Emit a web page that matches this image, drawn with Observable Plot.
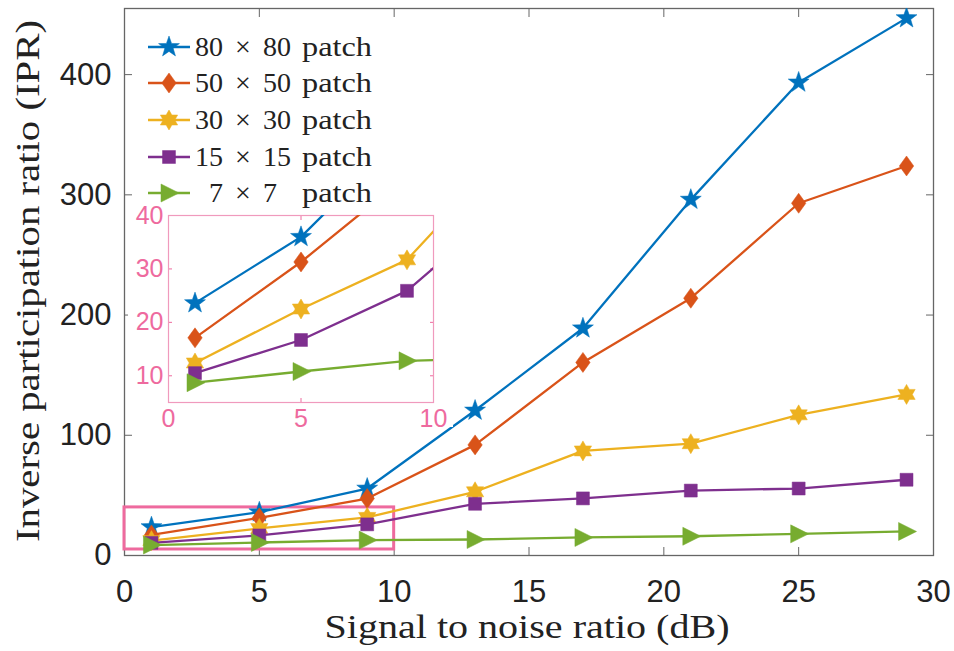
<!DOCTYPE html>
<html><head><meta charset="utf-8">
<script src="https://cdn.jsdelivr.net/npm/d3@7"></script>
<script src="https://cdn.jsdelivr.net/npm/@observablehq/plot@0.6"></script>
<style>
body{margin:0;background:#fff;}
#chart{position:relative;width:954px;height:651px;background:#fff;}
#chart svg{position:absolute;overflow:visible;}
</style></head><body><div id="chart"></div>
<script>
// ---- data ----
const snr = [1, 5, 9, 13, 17, 21, 25, 29];
const ipr80 = [23.6, 36.0, 55.7, 120.6, 189, 296, 393.5, 447];
const ipr50 = [17.1, 31.3, 47.4, 92, 160.6, 214, 293, 324];
const ipr30 = [12.4, 22.5, 31.7, 53, 87, 93, 117, 134];
const ipr15 = [10.5, 16.7, 25.9, 43, 47.5, 54, 55.7, 63];
const ipr7  = [8.7, 10.8, 12.8, 13.3, 15, 16, 18, 20];
const seriesA = ["80", "50", "30", "15", "7"];
const seriesB = ["80", "50", "30", "15", "7"];
const seriesValues = [ipr80, ipr50, ipr30, ipr15, ipr7];
const seriesColors = ["#0072BD", "#D95319", "#EDB120", "#7E2F8E", "#77AC30"];
const xTicks = [0, 5, 10, 15, 20, 25, 30];
const yTicks = [0, 100, 200, 300, 400];
const xDomain = [0, 30];
const yDomain = [0, 455];
const insetXTicks = [0, 5, 10];
const insetYTicks = [10, 20, 30, 40];
const insetXDomain = [0, 10];
const insetYDomain = [5, 40];
const xLabel = "Signal to noise ratio (dB)";
const yLabel = "Inverse participation ratio (IPR)";

// ---- symbols ----
const rOf = s => Math.sqrt(s / Math.PI);
function starPath(ctx, n, r, ri) {
  for (let i = 0; i < 2 * n; i++) {
    const a = -Math.PI / 2 + i * Math.PI / n;
    const rr = i % 2 ? ri : r;
    const x = rr * Math.cos(a), y = rr * Math.sin(a);
    i ? ctx.lineTo(x, y) : ctx.moveTo(x, y);
  }
  ctx.closePath();
}
const pentagram = {draw(ctx, s) { const r = rOf(s); starPath(ctx, 5, r, r * 0.40); }};
const hexagram = {draw(ctx, s) { const r = rOf(s); starPath(ctx, 6, r, r * 0.58); }};
const diamond = {draw(ctx, s) { const r = rOf(s); ctx.moveTo(0, -r); ctx.lineTo(0.72 * r, 0); ctx.lineTo(0, r); ctx.lineTo(-0.72 * r, 0); ctx.closePath(); }};
const square = {draw(ctx, s) { const r = rOf(s) * 0.72; ctx.rect(-r, -r, 2 * r, 2 * r); }};
const triRight = {draw(ctx, s) { const r = rOf(s); ctx.moveTo(r, 0); ctx.lineTo(-0.8 * r, -0.9 * r); ctx.lineTo(-0.8 * r, 0.9 * r); ctx.closePath(); }};
const seriesSymbols = [pentagram, diamond, hexagram, square, triRight];
const seriesR = [11, 10, 10, 9, 10];

const rows = seriesValues.map((vals, k) => snr.map((x, i) => ({x, y: vals[i], k})));
const pink = "#EE6A9E";

function seriesMarks(clip) {
  const marks = [];
  rows.forEach((data, k) => {
    marks.push(Plot.line(data, {x: "x", y: "y", stroke: seriesColors[k], strokeWidth: 2.3, clip}));
    marks.push(Plot.dot(data, {x: "x", y: "y", symbol: seriesSymbols[k], r: seriesR[k], fill: seriesColors[k], stroke: seriesColors[k], strokeWidth: 0.5, clip}));
  });
  return marks;
}

const frameColor = "#666";
const main = Plot.plot({
  width: 954, height: 651,
  marginTop: 8, marginRight: 21, marginBottom: 96, marginLeft: 124,
  style: {fontFamily: "'Liberation Sans', Arial, sans-serif", fontSize: "31px", color: "#222", background: "transparent"},
  x: {domain: xDomain},
  y: {domain: yDomain},
  marks: [
    Plot.axisX({ticks: xTicks, tickSize: 0, tickPadding: 24, fontSize: 31, label: null}),
    Plot.axisY({ticks: yTicks, tickSize: 0, tickPadding: 13, fontSize: 31, label: null}),
    Plot.axisX({ticks: xTicks, anchor: "bottom", tickSize: -8, tickFormat: () => "", label: null, stroke: frameColor}),
    Plot.axisX({ticks: xTicks, anchor: "top", tickSize: -8, tickFormat: () => "", label: null, stroke: frameColor}),
    Plot.axisY({ticks: yTicks, anchor: "left", tickSize: -8, tickFormat: () => "", label: null, stroke: frameColor}),
    Plot.axisY({ticks: yTicks, anchor: "right", tickSize: -8, tickFormat: () => "", label: null, stroke: frameColor}),
    Plot.frame({stroke: frameColor, strokeWidth: 1.3}),
    Plot.rect([{x1: insetXDomain[0], x2: insetXDomain[1], y1: insetYDomain[0], y2: insetYDomain[1]}],
      {x1: "x1", x2: "x2", y1: "y1", y2: "y2", fill: "none", stroke: pink, strokeWidth: 3}),
    ...seriesMarks(true)
  ]
});
main.style.left = "0px"; main.style.top = "0px";

// axis titles
const ms = d3.select(main);
ms.append("text").attr("x", 527).attr("y", 638).attr("text-anchor", "middle")
  .attr("font-family", "'Liberation Serif', 'Times New Roman', serif").attr("font-size", 34).attr("fill", "#222")
  .attr("textLength", 405).attr("lengthAdjust", "spacingAndGlyphs").text(xLabel);
ms.append("text").attr("transform", "translate(39,281) rotate(-90)").attr("text-anchor", "middle")
  .attr("font-family", "'Liberation Serif', 'Times New Roman', serif").attr("font-size", 34).attr("fill", "#222")
  .attr("textLength", 522).attr("lengthAdjust", "spacingAndGlyphs").text(yLabel);

// inset
const inset = Plot.plot({
  width: 325, height: 222,
  marginTop: 10, marginRight: 20, marginBottom: 25, marginLeft: 40,
  style: {fontFamily: "'Liberation Sans', Arial, sans-serif", fontSize: "25px", color: pink, background: "#fff"},
  x: {domain: insetXDomain},
  y: {domain: insetYDomain},
  marks: [
    Plot.axisX({ticks: insetXTicks, tickSize: 0, tickPadding: 7, fontSize: 25, label: null, fill: pink}),
    Plot.axisY({ticks: insetYTicks, tickSize: 0, tickPadding: 5, fontSize: 25, label: null, fill: pink}),
    Plot.axisX({ticks: insetXTicks, anchor: "bottom", tickSize: -4, tickFormat: () => "", label: null, stroke: pink}),
    Plot.axisX({ticks: insetXTicks, anchor: "top", tickSize: -4, tickFormat: () => "", label: null, stroke: pink}),
    Plot.axisY({ticks: insetYTicks, anchor: "left", tickSize: -4, tickFormat: () => "", label: null, stroke: pink}),
    Plot.axisY({ticks: insetYTicks, anchor: "right", tickSize: -4, tickFormat: () => "", label: null, stroke: pink}),
    Plot.frame({stroke: "#F09ABD", strokeWidth: 1.2}),
    ...seriesMarks(true)
  ]
});
inset.style.left = "128px"; inset.style.top = "205px";
d3.select(inset).selectAll("text").style("font-size", "25px").attr("font-size", 25);

// legend
const legend = d3.create("svg").attr("width", 954).attr("height", 651).style("left", "0px").style("top", "0px");
const rowY = [47, 83, 120, 157, 193];
seriesA.forEach((a, k) => {
  const g = legend.append("g").attr("transform", `translate(0,${rowY[k]})`);
  g.append("line").attr("x1", 148).attr("x2", 190).attr("y1", 0).attr("y2", 0)
    .attr("stroke", seriesColors[k]).attr("stroke-width", 2.3);
  g.append("path").attr("transform", "translate(169,0)")
    .attr("d", d3.symbol(seriesSymbols[k], seriesR[k] * seriesR[k] * Math.PI)())
    .attr("fill", seriesColors[k]).attr("stroke", seriesColors[k]).attr("stroke-width", 0.5);
  const t = g.append("g").attr("font-family", "'Liberation Serif', 'Times New Roman', serif")
    .attr("font-size", 28).attr("fill", "#222");
  t.append("text").attr("x", 223).attr("y", 9).attr("text-anchor", "end").text(a);
  t.append("text").attr("x", 243).attr("y", 9).attr("text-anchor", "middle").text("\u00D7");
  t.append("text").attr("x", 263).attr("y", 9).attr("text-anchor", "start").text(seriesB[k]);
  t.append("text").attr("x", 302).attr("y", 9).attr("text-anchor", "start")
    .attr("textLength", 70).attr("lengthAdjust", "spacingAndGlyphs").text("patch");
});

const chart = document.getElementById("chart");
chart.appendChild(main);
chart.appendChild(inset);
chart.appendChild(legend.node());
</script></body></html>
